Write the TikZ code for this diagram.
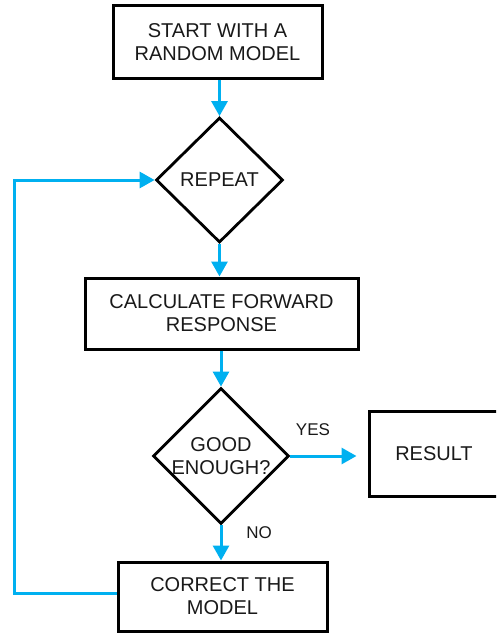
\documentclass[tikz,border=0pt]{standalone}
\usepackage{fontspec}
\setmainfont{Liberation Sans}
\usetikzlibrary{shapes.geometric,arrows.meta}
\definecolor{flowblue}{RGB}{0,176,240}
\begin{document}
\begin{tikzpicture}[x=1pt,y=-1pt,
  every node/.style={font=\fontsize{20}{23}\selectfont, align=center, inner sep=0pt, text=black!90},
  box/.style={draw=black, line width=3pt, rectangle},
  dia/.style={draw=black, line width=2.8pt, diamond},
  flow/.style={draw=flowblue, line width=3pt, -{Triangle[width=16pt,length=15pt]}},
  lbl/.style={font=\fontsize{17}{18}\selectfont}]
\useasboundingbox (0,0) rectangle (496,634);
\clip (0,0) rectangle (496,634);
\node[box, minimum width=209pt, minimum height=72pt] (start) at (217.5,42) {START WITH A\\RANDOM MODEL};
\node[dia, minimum width=127pt, minimum height=125pt] (rep) at (219.5,180) {REPEAT};
\node[box, minimum width=273pt, minimum height=71pt] (calc) at (221.5,313.5) {CALCULATE FORWARD\\RESPONSE};
\node[dia, minimum width=134pt, minimum height=132pt] (good) at (221,456) {GOOD\\ENOUGH?};
\node[box, minimum width=130pt, minimum height=85pt] (res) at (434,453.5) {RESULT};
\node[box, minimum width=209pt, minimum height=69pt] (corr) at (222.5,596.5) {CORRECT THE\\MODEL};
\node[lbl] (yes) at (313,430) {YES};
\node[lbl] (no) at (259,533) {NO};
\coordinate (loopb) at (14,593);
\coordinate (loopt) at (14,180);
\draw[flow] (start.south -| rep.north) -- (rep.north);
\draw[flow] (rep.south) -- (calc.north -| rep.south);
\draw[flow] (calc.south -| good.north) -- (good.north);
\draw[flow, shorten >=11pt] (good.east) -- (res.west |- good.east);
\draw[flow] (good.south) -- (corr.north -| good.south);
\draw[flow] (corr.west |- loopb) -- (loopb) -- (loopt) -- (rep.west);
\end{tikzpicture}
\end{document}
